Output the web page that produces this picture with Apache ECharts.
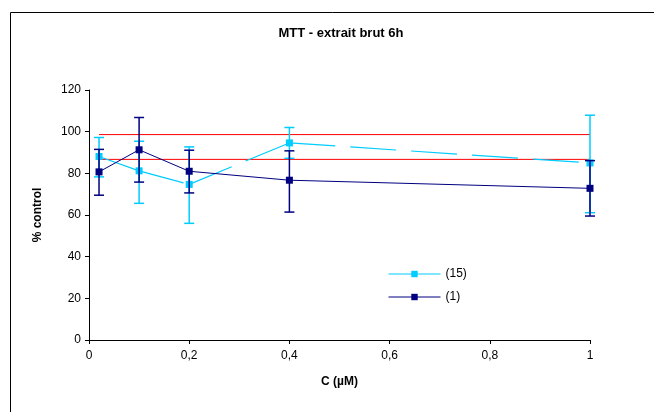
<!DOCTYPE html>
<html>
<head>
<meta charset="utf-8">
<script src="https://cdn.jsdelivr.net/npm/echarts@6/dist/echarts.min.js"></script>
<style>
html,body{margin:0;padding:0;background:#fff;}
#chart{width:654px;height:412px;}
</style>
</head>
<body>
<div id="chart"></div>
<script>
// ---- data ----
const concentrations = [0.02, 0.1, 0.2, 0.4, 1];
const series15 = [88.1, 81.2, 74.7, 94.6, 85.0];
const series15Low = [78.3, 65.6, 56.0, 87.2, 61.1];
const series15High = [97.2, 95.4, 92.7, 102.0, 107.9];
const series1 = [80.7, 91.3, 81.0, 76.7, 72.8];
const series1Low = [69.5, 75.8, 70.6, 61.4, 59.5];
const series1High = [91.5, 106.8, 91.1, 90.8, 86.1];
const controlUpper = [98.6, 98.6];
const controlLower = [86.7, 86.7];
const controlX = [0.02, 1];
const xTicks = [0, 0.2, 0.4, 0.6, 0.8, 1];
const yTicks = [0, 20, 40, 60, 80, 100, 120];
const names = ['(15)', '(1)'];

const CYAN = '#00CCFF', NAVY = '#000080', RED = '#FF0000';
const FONT = 'Liberation Sans, Arial, sans-serif';

function pairs(xs, ys) { return xs.map((x, i) => [x, ys[i]]); }
function errData(xs, lo, hi) { return xs.map((x, i) => [x, lo[i], hi[i]]); }

function errorBar(color) {
  return function (params, api) {
    const x = api.value(0);
    const pLo = api.coord([x, api.value(1)]);
    const pHi = api.coord([x, api.value(2)]);
    const w = 5;
    const style = { stroke: color, lineWidth: 1.5 };
    return {
      type: 'group',
      children: [
        { type: 'line', shape: { x1: pLo[0], y1: pLo[1], x2: pHi[0], y2: pHi[1] }, style },
        { type: 'line', shape: { x1: pLo[0] - w, y1: pLo[1], x2: pLo[0] + w, y2: pLo[1] }, style },
        { type: 'line', shape: { x1: pHi[0] - w, y1: pHi[1], x2: pHi[0] + w, y2: pHi[1] }, style }
      ]
    };
  };
}

// cyan line drawn as per-segment long-dash (pattern restarts at each point)
const cyanSegments = [];
for (let i = 0; i < concentrations.length - 1; i++) {
  cyanSegments.push({
    type: 'line',
    silent: true,
    symbol: 'none',
    z: 3,
    data: [[concentrations[i], series15[i]], [concentrations[i + 1], series15[i + 1]]],
    lineStyle: { color: CYAN, width: 1.2, type: [46, 15] },
    animation: false
  });
}

const chart = echarts.init(document.getElementById('chart'), null, { renderer: 'canvas' });
chart.setOption({
  animation: false,
  backgroundColor: '#fff',
  title: {
    text: 'MTT - extrait brut 6h',
    left: 336, top: 22, textAlign: 'center',
    textStyle: { fontFamily: FONT, fontSize: 13, fontWeight: 'bold', color: '#000' }
  },
  graphic: [{
    type: 'rect', left: 8, top: 10, shape: { width: 700, height: 500 },
    style: { fill: 'none', stroke: '#000', lineWidth: 1 }, silent: true, z: -10
  }],
  legend: {
    orient: 'vertical', left: 388, top: 268, padding: 0,
    itemWidth: 52, itemHeight: 8, itemGap: 11,
    textStyle: { fontFamily: FONT, fontSize: 12, color: '#000' },
    data: [
      { name: names[0], lineStyle: { color: CYAN, width: 1, type: 'solid', opacity: 1 } },
      { name: names[1], lineStyle: { color: NAVY, width: 1, type: 'solid', opacity: 1 } }
    ]
  },
  grid: { left: 89, right: 64, top: 90, bottom: 72, containLabel: false },
  xAxis: {
    type: 'value', min: xTicks[0], max: xTicks[xTicks.length - 1], interval: 0.2,
    name: 'C (µM)', nameLocation: 'middle', nameGap: 36,
    nameTextStyle: { fontFamily: FONT, fontSize: 12, fontWeight: 'bold', color: '#000' },
    axisLine: { lineStyle: { color: '#000', width: 1 } },
    axisTick: { show: true, length: 4, lineStyle: { color: '#000' } },
    axisLabel: {
      fontFamily: FONT, fontSize: 12, color: '#000', margin: 10,
      formatter: v => String(Math.round(v * 10) / 10).replace('.', ',')
    },
    splitLine: { show: false }
  },
  yAxis: {
    type: 'value', min: yTicks[0], max: yTicks[yTicks.length - 1], interval: 20,
    name: '% control', nameLocation: 'middle', nameGap: 45, nameRotate: 90,
    nameTextStyle: { fontFamily: FONT, fontSize: 12, fontWeight: 'bold', color: '#000' },
    axisLine: { show: true, lineStyle: { color: '#000', width: 1 } },
    axisTick: { show: true, length: 4, lineStyle: { color: '#000' } },
    axisLabel: { fontFamily: FONT, fontSize: 12, color: '#000', margin: 8 },
    splitLine: { show: false }
  },
  series: [
    {
      name: 'upper', type: 'line', silent: true, symbol: 'none', z: 1,
      data: pairs(controlX, controlUpper), lineStyle: { color: RED, width: 1 }
    },
    {
      name: 'lower', type: 'line', silent: true, symbol: 'none', z: 1,
      data: pairs(controlX, controlLower), lineStyle: { color: RED, width: 1 }
    },
    {
      name: 'err15', type: 'custom', silent: true, z: 2,
      renderItem: errorBar(CYAN), data: errData(concentrations, series15Low, series15High),
      encode: { x: 0, y: [1, 2] }
    },
    ...cyanSegments,
    {
      name: names[0], type: 'line', z: 4,
      data: pairs(concentrations, series15),
      symbol: 'rect', symbolSize: 7,
      itemStyle: { color: CYAN },
      lineStyle: { color: CYAN, width: 0, opacity: 0 }
    },
    {
      name: 'err1', type: 'custom', silent: true, z: 5,
      renderItem: errorBar(NAVY), data: errData(concentrations, series1Low, series1High),
      encode: { x: 0, y: [1, 2] }
    },
    {
      name: names[1], type: 'line', z: 6,
      data: pairs(concentrations, series1),
      symbol: 'rect', symbolSize: 7,
      itemStyle: { color: NAVY },
      lineStyle: { color: NAVY, width: 1 }
    }
  ]
});
</script>
</body>
</html>
